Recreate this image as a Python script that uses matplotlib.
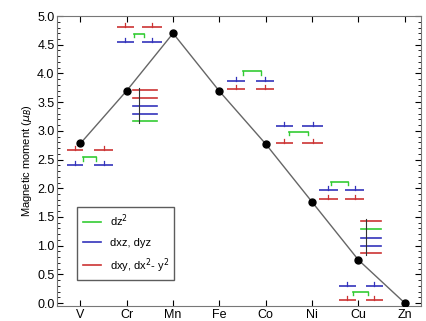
import matplotlib
matplotlib.use("Agg")
import matplotlib.pyplot as plt
from matplotlib.ticker import MultipleLocator

plt.rcParams["font.family"] = ["Liberation Sans", "DejaVu Sans"]

elements = ["V", "Cr", "Mn", "Fe", "Co", "Ni", "Cu", "Zn"]
moments = [2.78, 3.70, 4.70, 3.69, 2.77, 1.76, 0.75, 0.0]

# split-level diagrams: left segment, right segment, green bridge, levels
split_left = [(-0.28, 0.05), (0.78, 1.16), (3.17, 3.56), (4.21, 4.58), (5.14, 5.55), (5.57, 5.94)]
split_right = [(0.30, 0.71), (1.34, 1.77), (3.78, 4.17), (4.79, 5.23), (5.72, 6.11), (6.16, 6.52)]
split_bridge = [(0.05, 0.33), (1.16, 1.38), (3.50, 3.89), (4.50, 4.91), (5.40, 5.77), (5.89, 6.21)]
split_red = [2.66, 4.81, 3.73, 2.79, 1.81, 0.06]
split_green = [2.54, 4.69, 4.04, 2.98, 2.11, 0.20]
split_blue = [2.40, 4.54, 3.87, 3.08, 1.97, 0.30]

# stacked columns (Cr and Cu)
stack_x = [(1.14, 1.66), (6.05, 6.48)]
stack_orbs = [["red", "red", "blue", "blue", "green"],
              ["red", "green", "blue", "blue", "red"]]
stack_levels = [[3.72, 3.58, 3.44, 3.30, 3.17],
                [1.43, 1.29, 1.13, 0.99, 0.87]]

colors = {"green": "#33cc33", "blue": "#3333bb", "red": "#cc3333"}
labels = {"green": r"dz$^2$", "blue": "dxz, dyz", "red": r"dxy, dx$^2$- y$^2$"}

fig = plt.figure(figsize=(4.27, 3.21), dpi=100)
ax = fig.add_axes([0.134, 0.047, 0.852, 0.903])

x = range(len(elements))
ax.plot(x, moments, color="#666666", lw=1.0, zorder=3)
ax.plot(x, moments, "o", color="black", ms=5, zorder=4)


def seg(x0, x1, y, c):
    ax.plot([x0, x1], [y, y], color=colors[c], lw=1.2, solid_capstyle="butt")
    xm = (x0 + x1) / 2
    ax.plot([xm, xm], [y, y + 0.07], color=colors[c], lw=0.9)


for i in range(len(split_left)):
    for lv, c in [(split_red[i], "red"), (split_blue[i], "blue")]:
        seg(*split_left[i], lv, c)
        seg(*split_right[i], lv, c)
    b0, b1 = split_bridge[i]
    g = split_green[i]
    ax.plot([b0, b1], [g, g], color=colors["green"], lw=1.2)
    ax.plot([b0, b0], [g, g - 0.06], color=colors["green"], lw=1.0)
    ax.plot([b1, b1], [g, g - 0.06], color=colors["green"], lw=1.0)

for (x0, x1), orbs, lvls in zip(stack_x, stack_orbs, stack_levels):
    for c, lv in zip(orbs, lvls):
        ax.plot([x0, x1], [lv, lv], color=colors[c], lw=1.2)
    xv = x0 + (x1 - x0) * 0.25
    ax.plot([xv, xv], [min(lvls) - 0.03, max(lvls) + 0.03], color="#333333", lw=0.8)

for c in ["green", "blue", "red"]:
    ax.plot([], [], color=colors[c], lw=1.2, label=labels[c])
leg = ax.legend(loc="lower left", bbox_to_anchor=(0.04, 0.07), fontsize=8,
                frameon=True, fancybox=False, edgecolor="#333333",
                handlelength=1.6, borderpad=0.5, labelspacing=0.75)
leg.get_frame().set_linewidth(1.0)

ax.set_xlim(-0.5, 7.35)
ax.set_ylim(-0.05, 5.0)
ax.set_xticks(list(x))
ax.set_xticklabels(elements, fontsize=9)
ax.yaxis.set_major_locator(MultipleLocator(0.5))
ax.yaxis.set_minor_locator(MultipleLocator(0.1))
ax.yaxis.set_major_formatter(plt.FormatStrFormatter("%.1f"))
ax.tick_params(axis="both", direction="in", top=True, right=True, labelsize=9, length=4, pad=2)
ax.tick_params(axis="y", which="minor", direction="in", right=True, length=2)
ax.set_ylabel(r"Magnetic moment ($\mu_B$)", fontsize=8, labelpad=2)
for s in ax.spines.values():
    s.set_color("#777777")

fig.savefig("out.png", dpi=100)
